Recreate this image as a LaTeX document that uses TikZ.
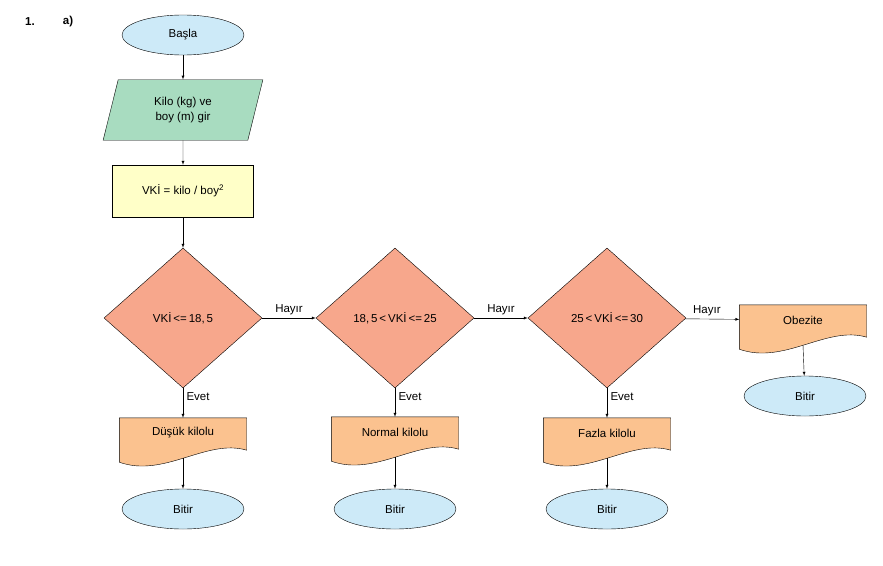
\documentclass[tikz,border=0pt]{standalone}
\usepackage{fontspec}
\setmainfont{Liberation Sans}
\usetikzlibrary{shapes.geometric}
\definecolor{endfill}{HTML}{CDEAF8}
\definecolor{iofill}{HTML}{A8DCC0}
\definecolor{procfill}{HTML}{FFFFC8}
\definecolor{decfill}{HTML}{F7A78C}
\definecolor{docfill}{HTML}{FBC28F}
\tikzset{
  term/.style={ellipse,draw,fill=endfill,minimum width=122pt,minimum height=40pt},
  io/.style={trapezium,trapezium left angle=76,trapezium right angle=104,draw,fill=iofill,
    minimum width=160pt,minimum height=49pt,align=center,inner sep=1pt},
  proc/.style={rectangle,draw,fill=procfill,minimum width=141pt,minimum height=52pt},
  dec/.style={diamond,draw,fill=decfill,minimum width=158pt,minimum height=140pt,inner sep=0pt},
  doc/.style={rectangle,minimum width=127pt,minimum height=30pt},
  arr/.style={draw,-latex}
}
\newcommand{\docpath}[1]{%
  \draw[fill=docfill] (#1.north west) -- (#1.north east) -- ([yshift=-2pt]#1.south east)
    .. controls ([xshift=-40pt,yshift=10pt]#1.south east) and ([xshift=45pt,yshift=-30pt]#1.south west)
    .. ([yshift=-14pt]#1.south west) -- cycle;
  \node at (#1) {\csname doctext#1\endcsname};}
\begin{document}
\begin{tikzpicture}[x=1pt,y=-1pt,font=\fontsize{11.5}{15}\selectfont]
\useasboundingbox (0,0) rectangle (883,565);
\node[font=\bfseries\fontsize{11.5}{15}\selectfont] (num) at (30,22) {1.};
\node[font=\bfseries\fontsize{11.5}{15}\selectfont] (part) at (68,22) {a)};

\node[term] (start) at (183,35) {Başla};
\node[io] (input) at (183,110) {Kilo (kg) ve\\ boy (m) gir};
\node[proc] (calc) at (183,191) {VKİ = kilo / boy\textsuperscript{2}};

\node[dec] (q1) at (183,318) {VKİ\,<=\,18,\,5};
\node[dec] (q2) at (395,318) {18,\,5\,<\,VKİ\,<=\,25};
\node[dec] (q3) at (607,318) {25\,<\,VKİ\,<=\,30};

% documents
\node[doc] (d1) at (183,433) {};
\node[doc] (d2) at (395,432) {};
\node[doc] (d3) at (607,433) {};
\node[doc] (d4) at (803,320) {};
\def\doctextdone{Düşük kilolu}
\def\doctextdtwo{Normal kilolu}
\def\doctextdthree{Fazla kilolu}
\def\doctextdfour{Obezite}
\docpath{d1}
\node at (d1) {Düşük kilolu};
\draw[fill=docfill] (d2.north west) -- (d2.north east) -- ([yshift=-2pt]d2.south east)
  .. controls ([xshift=-40pt,yshift=10pt]d2.south east) and ([xshift=45pt,yshift=-30pt]d2.south west)
  .. ([yshift=-14pt]d2.south west) -- cycle;
\node at (d2) {Normal kilolu};
\draw[fill=docfill] (d3.north west) -- (d3.north east) -- ([yshift=-2pt]d3.south east)
  .. controls ([xshift=-40pt,yshift=10pt]d3.south east) and ([xshift=45pt,yshift=-30pt]d3.south west)
  .. ([yshift=-14pt]d3.south west) -- cycle;
\node at (d3) {Fazla kilolu};
\draw[fill=docfill] (d4.north west) -- (d4.north east) -- ([yshift=-2pt]d4.south east)
  .. controls ([xshift=-40pt,yshift=10pt]d4.south east) and ([xshift=45pt,yshift=-30pt]d4.south west)
  .. ([yshift=-14pt]d4.south west) -- cycle;
\node at (d4) {Obezite};

\node[term] (end1) at (183,509) {Bitir};
\node[term] (end2) at (395,509) {Bitir};
\node[term] (end3) at (607,509) {Bitir};
\node[term] (end4) at (805,396) {Bitir};

\draw[arr] (start) -- (input);
\draw[arr] (input) -- (calc);
\draw[arr] (calc) -- (q1);
\draw[arr] (q1) -- node[above,pos=0.5] {Hayır} (q2);
\draw[arr] (q2) -- node[above,pos=0.5] {Hayır} (q3);
\draw[arr] (q3) -- node[above,pos=0.4] {Hayır} (d4);
\draw[arr] (q1) -- node[right,pos=0.3] {Evet} (d1);
\draw[arr] (q2) -- node[right,pos=0.3] {Evet} (d2);
\draw[arr] (q3) -- node[right,pos=0.3] {Evet} (d3);
\draw[arr] ([yshift=-10pt]d1.south) -- (end1);
\draw[arr] ([yshift=-10pt]d2.south) -- (end2);
\draw[arr] ([yshift=-10pt]d3.south) -- (end3);
\draw[arr] ([yshift=-10pt]d4.south) -- (end4);
\end{tikzpicture}
\end{document}
